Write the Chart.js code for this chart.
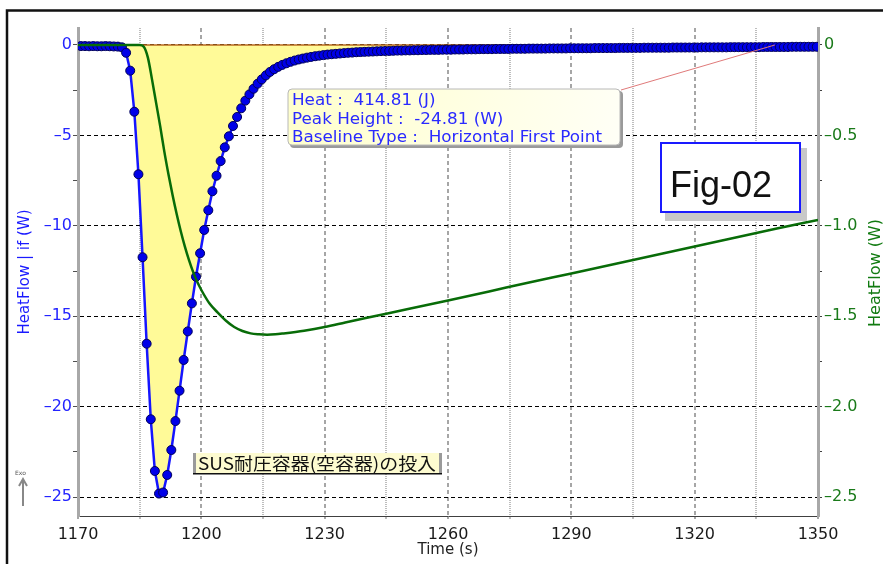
<!DOCTYPE html>
<html>
<head>
<meta charset="utf-8">
<script src="https://cdn.jsdelivr.net/npm/chart.js@4.4.1/dist/chart.umd.min.js"></script>
<style>
  html, body { margin: 0; padding: 0; background: #fff; }
  #wrap { width: 883px; height: 564px; position: relative; }
</style>
</head>
<body>
<div id="wrap"><canvas id="chart"></canvas></div>
<script>
// HeatFlow|if trace, one sample per second starting at sampleStart
const sampleStart = 1170.7;
const sampleStep = 1;
const heatFlowIf = [
  -0.06, -0.06, -0.07, -0.06, -0.07, -0.07, -0.06, -0.07, -0.08, -0.09, -0.13,
  -0.43, -1.42, -3.69, -7.15, -11.74, -16.52, -20.70, -23.56, -24.81, -24.75,
  -23.78, -22.40, -20.80, -19.12, -17.42, -15.84, -14.29, -12.82, -11.52, -10.23,
  -9.14, -8.09, -7.23, -6.42, -5.66, -5.05, -4.48, -3.98, -3.50, -3.08,
  -2.73, -2.42, -2.14, -1.90, -1.68, -1.49, -1.34,
  -1.21, -1.10, -1.01, -0.93, -0.86, -0.80, -0.75, -0.70, -0.66, -0.62,
  -0.59, -0.56, -0.53, -0.51, -0.49, -0.47, -0.45, -0.43, -0.42, -0.40,
  -0.39, -0.38, -0.37, -0.36, -0.35, -0.34, -0.33, -0.33, -0.32, -0.31,
  -0.31, -0.30,
  -0.30, -0.29, -0.29, -0.28, -0.28, -0.27, -0.27, -0.27, -0.26, -0.26,
  -0.26, -0.25, -0.25, -0.25, -0.24, -0.24, -0.24, -0.23, -0.23, -0.23,
  -0.23, -0.22, -0.22, -0.22, -0.22, -0.21, -0.21, -0.21, -0.21, -0.20,
  -0.20, -0.20, -0.20, -0.20, -0.19, -0.19, -0.19, -0.19, -0.19, -0.18,
  -0.18, -0.18, -0.18, -0.18, -0.18, -0.17, -0.17, -0.17, -0.17, -0.17,
  -0.17, -0.16, -0.16, -0.16, -0.16, -0.16, -0.16, -0.15, -0.15, -0.15,
  -0.15, -0.15, -0.15, -0.15, -0.14, -0.14, -0.14, -0.14, -0.14, -0.14,
  -0.14, -0.13, -0.13, -0.13, -0.13, -0.13, -0.13, -0.13, -0.12, -0.12,
  -0.12, -0.12, -0.12, -0.12, -0.12, -0.12, -0.11, -0.11, -0.11, -0.11,
  -0.11, -0.11, -0.11, -0.10, -0.10, -0.10, -0.10, -0.10, -0.10, -0.10
];

// HeatFlow (right axis)
const flowTimes = [1170, 1185, 1186, 1187, 1188, 1189, 1190, 1191, 1192, 1193, 1194,
  1195, 1196, 1197, 1198, 1199, 1200, 1202, 1204, 1206, 1208, 1210, 1212, 1214,
  1216, 1218, 1220, 1225, 1230, 1235, 1240, 1250, 1260, 1270, 1280, 1290, 1300, 1310,
  1320, 1330, 1340, 1350];
const heatFlow = [0, 0, -0.01, -0.07, -0.19, -0.32, -0.45, -0.59, -0.715, -0.83, -0.935,
  -1.03, -1.115, -1.19, -1.255, -1.31, -1.355, -1.43, -1.48, -1.525, -1.56, -1.582, -1.595, -1.60,
  -1.602, -1.60, -1.595, -1.58, -1.56, -1.535, -1.51, -1.462, -1.413, -1.363, -1.312, -1.264, -1.214, -1.164,
  -1.115, -1.065, -1.015, -0.968];

// integration window (horizontal first point baseline)
const peakRange = [1181.7, 1339.5];

const timeTicks = [1170, 1185, 1200, 1215, 1230, 1245, 1260, 1275, 1290, 1305, 1320, 1335, 1350];
const leftTicks = [0, -2.5, -5, -7.5, -10, -12.5, -15, -17.5, -20, -22.5, -25];
const rightTicks = [0, -0.25, -0.5, -0.75, -1, -1.25, -1.5, -1.75, -2, -2.25, -2.5];

const resultLines = ['Heat :  414.81 (J)', 'Peak Height :  -24.81 (W)', 'Baseline Type :  Horizontal First Point'];
const eventLabel = 'SUS耐圧容器(空容器)の投入';
const figLabel = 'Fig-02';

const blueData = heatFlowIf.map((v, i) => ({ x: sampleStart + i * sampleStep, y: v }));
const fillData = blueData.filter(p => p.x >= peakRange[0] && p.x <= peakRange[1]);
const greenData = flowTimes.map((t, i) => ({ x: t, y: heatFlow[i] }));

const isMajorX = v => v % 30 === 0;
const isMajorL = v => Math.abs(v % 5) < 1e-9;
const isMajorR = v => Math.abs(v * 2 - Math.round(v * 2)) < 1e-9;
const neg = (v, d) => v === 0 ? '0' : '\u2013' + Math.abs(v).toFixed(d);

Chart.defaults.font.family = "'DejaVu Sans'";

function fitText(c, text, x, y, k) {
  c.save();
  c.translate(x, y);
  c.scale(k, 1);
  c.fillText(text, 0, 0);
  c.restore();
}

const decorations = {
  id: 'decorations',
  beforeDraw(chart) {
    const c = chart.ctx;
    c.save();
    c.fillStyle = '#fff';
    c.fillRect(0, 0, chart.width, chart.height);
    c.strokeStyle = '#111';
    c.lineWidth = 2.5;
    c.beginPath();
    c.moveTo(7, chart.height);
    c.lineTo(7, 10.5);
    c.lineTo(chart.width, 10.5);
    c.stroke();
    c.restore();
  },
  afterDraw(chart) {
    const c = chart.ctx;
    const xs = chart.scales.x, ys = chart.scales.y;
    c.save();

    // pointer from result box to end of integration
    c.strokeStyle = '#e07a7a';
    c.lineWidth = 1;
    c.beginPath();
    c.moveTo(621, 90);
    c.lineTo(xs.getPixelForValue(peakRange[1]), ys.getPixelForValue(0));
    c.stroke();

    // result box
    c.fillStyle = '#9a9a9a';
    c.beginPath(); c.roundRect(290, 91, 333, 57, 4); c.fill();
    const g = c.createLinearGradient(288, 89, 620, 146);
    g.addColorStop(0, '#ffffcc');
    g.addColorStop(1, '#fffff6');
    c.fillStyle = g;
    c.beginPath(); c.roundRect(288, 89, 332, 56, 4); c.fill();
    c.strokeStyle = '#b8b8b8'; c.lineWidth = 1;
    c.stroke();
    c.fillStyle = '#2a2aff';
    c.font = "15px 'DejaVu Sans'";
    c.textBaseline = 'alphabetic';
    const k = 310 / c.measureText(resultLines[2]).width;
    fitText(c, resultLines[0], 292, 105, k);
    fitText(c, resultLines[1], 292, 124, k);
    fitText(c, resultLines[2], 292, 142, k);

    // Fig-02 box
    c.fillStyle = '#c8c8c8';
    c.fillRect(665, 148, 142, 73);
    c.fillStyle = '#fff';
    c.fillRect(660, 142, 141, 71);
    c.strokeStyle = '#1a1aff'; c.lineWidth = 2;
    c.strokeRect(661, 143, 139, 69);
    c.fillStyle = '#111';
    c.font = "36px 'Liberation Sans'";
    c.fillText(figLabel, 670, 197);

    // event label
    c.fillStyle = '#fdfbd0';
    c.fillRect(193, 453, 249, 21);
    c.fillStyle = '#9a9a9a';
    c.fillRect(193, 453, 3, 21);
    c.fillRect(439, 453, 3, 21);
    c.fillStyle = '#111';
    c.fillRect(193, 473, 249, 1.5);
    c.font = "17px 'Noto Sans CJK JP'";
    const k2 = 238 / c.measureText(eventLabel).width;
    fitText(c, eventLabel, 198, 470, k2);

    // exo marker
    c.fillStyle = '#555';
    c.font = "6px 'DejaVu Sans'";
    c.fillText('Exo', 15, 475);
    c.strokeStyle = '#888'; c.lineWidth = 2;
    c.beginPath(); c.moveTo(23, 506); c.lineTo(23, 481); c.stroke();
    c.beginPath(); c.moveTo(19, 486); c.lineTo(23, 479); c.lineTo(27, 486); c.stroke();

    // right axis title
    c.translate(876, 273);
    c.rotate(-Math.PI / 2);
    c.fillStyle = '#107a10';
    c.font = "16px 'DejaVu Sans'";
    c.textAlign = 'center';
    c.textBaseline = 'middle';
    c.fillText('HeatFlow (W)', 0, 0);
    c.restore();
  }
};

new Chart(document.getElementById('chart'), {
  type: 'line',
  data: {
    datasets: [
      {
        label: 'HeatFlow|if',
        data: blueData,
        yAxisID: 'y',
        borderColor: '#1515ff',
        borderWidth: 2.5,
        pointRadius: 4.5,
        pointBackgroundColor: '#0000e8',
        pointBorderColor: '#00005a',
        pointBorderWidth: 1,
        fill: false,
        order: 1
      },
      {
        label: 'HeatFlow',
        data: greenData,
        yAxisID: 'y2',
        borderColor: '#086c08',
        borderWidth: 2.5,
        pointRadius: 0,
        cubicInterpolationMode: 'monotone',
        fill: false,
        order: 0
      },
      {
        label: 'baseline',
        data: [{ x: peakRange[0], y: 0 }, { x: peakRange[1], y: 0 }],
        yAxisID: 'y',
        borderColor: '#b86a20',
        borderWidth: 1.5,
        pointRadius: 0,
        fill: false,
        order: 2
      },
      {
        label: 'area',
        data: fillData,
        yAxisID: 'y',
        borderWidth: 0,
        borderColor: 'rgba(0,0,0,0)',
        backgroundColor: '#fffa98',
        pointRadius: 0,
        fill: 'origin',
        order: 3
      }
    ]
  },
  options: {
    responsive: true,
    maintainAspectRatio: false,
    animation: false,
    layout: { padding: { top: 28, left: 0, right: 0, bottom: 0 } },
    plugins: { legend: { display: false }, tooltip: { enabled: false } },
    scales: {
      x: {
        type: 'linear',
        min: 1170,
        max: 1350,
        afterBuildTicks: s => { s.ticks = timeTicks.map(v => ({ value: v })); },
        afterFit: s => { s.height = 48; },
        ticks: {
          autoSkip: false,
          maxRotation: 0,
          padding: 6,
          color: '#1a1a1a',
          font: { size: 16 },
          callback: v => isMajorX(v) ? String(v) : ''
        },
        grid: {
          color: ctx => ctx.tick && isMajorX(ctx.tick.value) ? '#a6a6a6' : '#bdbdbd',
          lineWidth: 2,
          tickLength: 3
        },
        border: {
          color: '#404040',
          width: 1,
          dash: ctx => ctx.tick ? (isMajorX(ctx.tick.value) ? [4, 3] : [1, 1]) : []
        },
        title: {
          display: true,
          text: 'Time (s)',
          color: '#222',
          font: { size: 15 },
          padding: { top: 0, bottom: 5 }
        }
      },
      y: {
        position: 'left',
        min: -26.05,
        max: 0.94,
        afterBuildTicks: s => { s.ticks = leftTicks.map(v => ({ value: v })); },
        afterFit: s => { s.width = 78; },
        ticks: {
          padding: 1,
          color: '#2424ff',
          font: { size: 16 },
          callback: v => isMajorL(v) ? neg(v, 0) : ''
        },
        grid: {
          color: ctx => ctx.tick && isMajorL(ctx.tick.value) ? '#000' : 'rgba(0,0,0,0)',
          lineWidth: 1,
          tickColor: '#505050',
          tickLength: 5
        },
        border: { color: '#a8a8a8', width: 3, dash: [4, 3] },
        title: {
          display: true,
          text: 'HeatFlow | if (W)',
          color: '#1a1aff',
          font: { size: 15 },
          padding: { top: 16, bottom: 0 }
        }
      },
      y2: {
        position: 'right',
        min: -2.605,
        max: 0.094,
        afterBuildTicks: s => { s.ticks = rightTicks.map(v => ({ value: v })); },
        afterFit: s => { s.width = 65; },
        ticks: {
          padding: 2,
          color: '#1a7a1a',
          font: { size: 16 },
          callback: v => isMajorR(v) ? neg(v, v === 0 ? 0 : 1) : ''
        },
        grid: {
          drawOnChartArea: false,
          tickColor: '#404040',
          tickLength: 4
        },
        border: { color: '#a8a8a8', width: 3 }
      }
    }
  },
  plugins: [decorations]
});
</script>
</body>
</html>
